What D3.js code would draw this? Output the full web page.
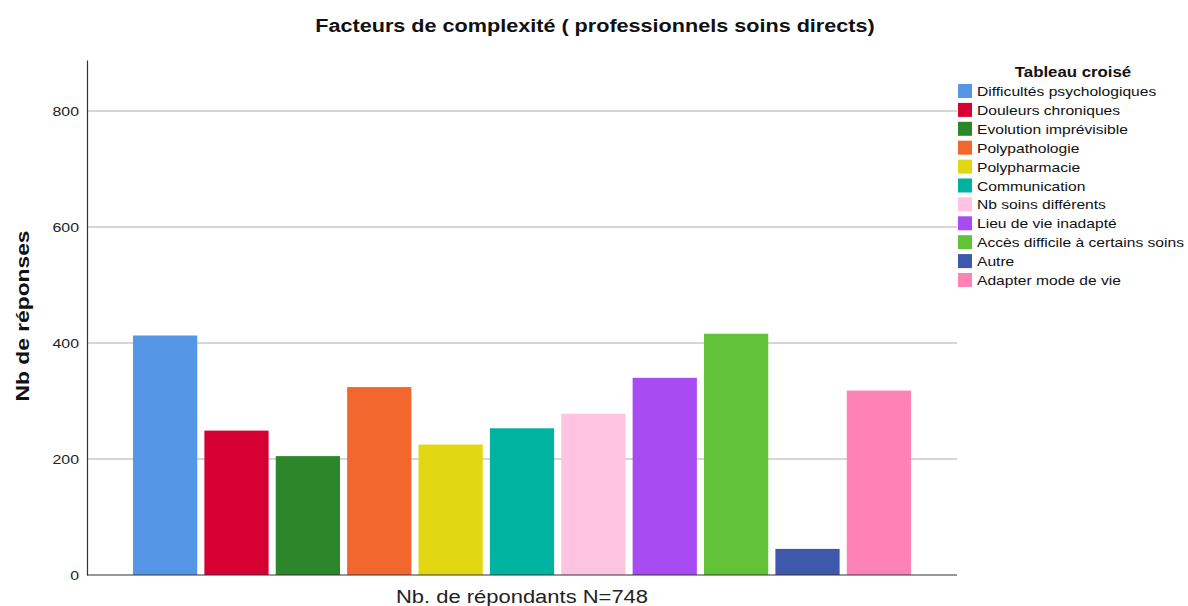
<!DOCTYPE html>
<html>
<head>
<meta charset="utf-8">
<script src="https://cdn.jsdelivr.net/npm/d3@7"></script>
<style>
  body { margin: 0; background: #fff; }
  text { font-family: "Liberation Sans", Arial, sans-serif; }
</style>
</head>
<body>
<div id="chart"></div>
<script>
// data
const categories = [
  "Difficultés psychologiques", "Douleurs chroniques", "Evolution imprévisible",
  "Polypathologie", "Polypharmacie", "Communication", "Nb soins différents",
  "Lieu de vie inadapté", "Accès difficile à certains soins", "Autre", "Adapter mode de vie"
];
const values = [413, 249, 205, 324, 225, 253, 278, 340, 416, 45, 318];
const colors = [
  "#5596e6", "#d60032", "#2b8729", "#f2672d", "#e1d812", "#00b2a0",
  "#fec3e0", "#a94bf2", "#62c338", "#3e58ac", "#ff82b6"
];
const yTicks = [0, 200, 400, 600, 800];

const width = 1188, height = 606;
const margin = { left: 87, right: 231, top: 60, bottom: 31 };

// the original font is a bit wider than Liberation Sans, stretch text to fit
const stretch = function(sel, k) {
  sel.each(function() {
    const w = this.getComputedTextLength();
    d3.select(this).attr("textLength", w * k).attr("lengthAdjust", "spacingAndGlyphs");
  });
}

const svg = d3.select("#chart")
  .append("svg")
  .attr("width", width)
  .attr("height", height);

let yScale = d3.scaleLinear()
  .domain([0, 888])
  .range([height - margin.bottom, margin.top]);

let xScale = d3.scaleBand()
  .domain(categories)
  .range([133, 911])
  .paddingInner(0.1)
  .paddingOuter(0);

// grid lines
svg.append("g")
  .selectAll("line")
  .data(yTicks.filter(d => d > 0))
  .enter()
  .append("line")
    .attr("x1", margin.left)
    .attr("x2", width - margin.right)
    .attr("y1", d => yScale(d))
    .attr("y2", d => yScale(d))
    .attr("stroke", "#c8c8c8")
    .attr("stroke-width", 1.5);

// bars
svg.selectAll("rect.bar")
  .data(values)
  .enter()
  .append("rect")
    .attr("class", "bar")
    .attr("x", (d, i) => xScale(categories[i]))
    .attr("y", d => yScale(d))
    .attr("width", xScale.bandwidth())
    .attr("height", d => yScale(0) - yScale(d))
    .attr("fill", (d, i) => colors[i]);

// y axis
const yAxis = svg.append("g")
  .attr("transform", `translate(${margin.left},0)`)
  .call(d3.axisLeft(yScale).tickValues(yTicks).tickSize(0).tickPadding(8));
yAxis.select(".domain").attr("stroke", "#333").attr("stroke-width", 1.2);
yAxis.selectAll("text").attr("font-size", "13px").attr("fill", "#222")
  .attr("font-family", "Liberation Sans, Arial, sans-serif")
  .call(stretch, 1.22);

// x axis line
svg.append("line")
  .attr("x1", margin.left)
  .attr("x2", width - margin.right)
  .attr("y1", yScale(0))
  .attr("y2", yScale(0))
  .attr("stroke", "#333")
  .attr("stroke-width", 1.2);

// title
svg.append("text")
  .attr("x", 595)
  .attr("y", 32)
  .attr("text-anchor", "middle")
  .attr("font-size", "18px")
  .attr("font-weight", "bold")
  .attr("fill", "#111")
  .text("Facteurs de complexité ( professionnels soins directs)")
  .call(stretch, 1.2);

// y label
svg.append("text")
  .attr("transform", "translate(29,316) rotate(-90)")
  .attr("text-anchor", "middle")
  .attr("font-size", "19px")
  .attr("font-weight", "bold")
  .attr("fill", "#111")
  .text("Nb de réponses")
  .call(stretch, 1.2);

// x label
svg.append("text")
  .attr("x", 522)
  .attr("y", 603)
  .attr("text-anchor", "middle")
  .attr("font-size", "18px")
  .attr("fill", "#222")
  .text("Nb. de répondants N=748")
  .call(stretch, 1.22);

// legend
const legend = svg.append("g");
legend.append("text")
  .attr("x", 1073)
  .attr("y", 77)
  .attr("text-anchor", "middle")
  .attr("font-size", "14px")
  .attr("font-weight", "bold")
  .attr("fill", "#111")
  .text("Tableau croisé")
  .call(stretch, 1.2);

const items = legend.selectAll("g.item")
  .data(categories)
  .enter()
  .append("g")
    .attr("class", "item")
    .attr("transform", (d, i) => `translate(958,${84 + i * 18.9})`);

items.append("rect")
  .attr("width", 14)
  .attr("height", 14)
  .attr("fill", (d, i) => colors[i]);

items.append("text")
  .attr("x", 19)
  .attr("y", 12)
  .attr("font-size", "13px")
  .attr("fill", "#111")
  .text(d => d)
  .call(stretch, 1.2);
</script>
</body>
</html>
